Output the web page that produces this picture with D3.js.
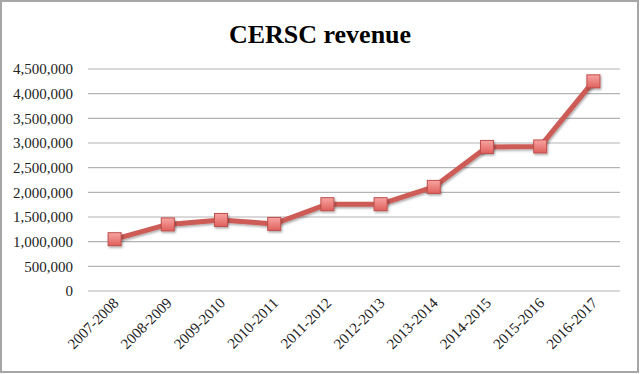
<!DOCTYPE html>
<html>
<head>
<meta charset="utf-8">
<script src="https://cdn.jsdelivr.net/npm/d3@7"></script>
<style>
  body { margin: 0; background: #fff; }
  text { font-family: 'Liberation Serif', 'DejaVu Serif', serif; }
</style>
</head>
<body>
<div id="chart"></div>
<script>
let years = ['2007-2008', '2008-2009', '2009-2010', '2010-2011', '2011-2012',
  '2012-2013', '2013-2014', '2014-2015', '2015-2016', '2016-2017']
let revenue = [1050000, 1350000, 1440000, 1360000, 1760000,
  1760000, 2110000, 2920000, 2930000, 4250000]
let yTicks = [0, 500000, 1000000, 1500000, 2000000, 2500000, 3000000, 3500000, 4000000, 4500000]

let margin = { top: 69, left: 88, right: 20, bottom: 83 }
let width = 640 - margin.left - margin.right
let height = 374 - margin.top - margin.bottom

let root = d3
  .select('#chart')
  .append('svg')
  .attr('width', 640)
  .attr('height', 374)

root
  .append('rect')
  .attr('x', 1)
  .attr('y', 1)
  .attr('width', 637)
  .attr('height', 371)
  .attr('fill', '#fff')
  .attr('stroke', '#a6a6a6')
  .attr('stroke-width', 2)

root
  .append('text')
  .attr('x', 320)
  .attr('y', 43)
  .attr('text-anchor', 'middle')
  .attr('font-size', 26)
  .attr('font-weight', 'bold')
  .text('CERSC revenue')

let defs = root.append('defs')
let grad = defs
  .append('linearGradient')
  .attr('id', 'marker-fill')
  .attr('x1', 0).attr('y1', 0)
  .attr('x2', 0).attr('y2', 1)
grad.append('stop').attr('offset', '0%').attr('stop-color', '#f7a5a3')
grad.append('stop').attr('offset', '100%').attr('stop-color', '#e0605c')

let shadow = defs.append('filter').attr('id', 'shadow')
  .attr('x', '-50%').attr('y', '-50%').attr('width', '200%').attr('height', '200%')
shadow.append('feDropShadow')
  .attr('dx', 1).attr('dy', 1.5).attr('stdDeviation', 1)
  .attr('flood-color', '#000').attr('flood-opacity', 0.35)

let svg = root
  .append('g')
  .attr('transform', 'translate(' + margin.left + ',' + margin.top + ')')

let x = d3.scaleBand().domain(years).range([0, width])
let y = d3.scaleLinear().domain([0, 4500000]).range([height, 0])

svg
  .append('g')
  .selectAll('.grid')
  .data(yTicks)
  .enter()
  .append('line')
  .attr('class', 'grid')
  .attr('x1', 0)
  .attr('x2', width)
  .attr('y1', d => y(d))
  .attr('y2', d => y(d))
  .attr('stroke', '#b3b3b3')
  .attr('stroke-width', 1.2)

svg
  .append('g')
  .selectAll('.y-label')
  .data(yTicks)
  .enter()
  .append('text')
  .attr('class', 'y-label')
  .attr('x', -15)
  .attr('y', d => y(d))
  .attr('dy', '0.35em')
  .attr('text-anchor', 'end')
  .attr('font-size', 15)
  .attr('fill', '#222')
  .text(d => d3.format(',')(d))

svg
  .append('g')
  .selectAll('.x-label')
  .data(years)
  .enter()
  .append('text')
  .attr('class', 'x-label')
  .attr('transform', d => `translate(${x(d) + x.bandwidth() / 2 + 5},${height + 13}) rotate(-45)`)
  .attr('text-anchor', 'end')
  .attr('font-size', 15)
  .attr('fill', '#222')
  .text(d => d)

let line = d3
  .line()
  .x((d, i) => x(years[i]) + x.bandwidth() / 2)
  .y(d => y(d))

svg
  .append('path')
  .datum(revenue)
  .attr('d', line)
  .attr('fill', 'none')
  .attr('stroke', '#cd5c57')
  .attr('stroke-width', 5)
  .attr('stroke-linejoin', 'round')
  .attr('filter', 'url(#shadow)')

svg
  .selectAll('.marker')
  .data(revenue)
  .enter()
  .append('rect')
  .attr('class', 'marker')
  .attr('x', (d, i) => x(years[i]) + x.bandwidth() / 2 - 6.5)
  .attr('y', d => y(d) - 6.5)
  .attr('width', 13)
  .attr('height', 13)
  .attr('fill', 'url(#marker-fill)')
  .attr('stroke', '#c0504d')
  .attr('stroke-width', 1)
  .attr('filter', 'url(#shadow)')
</script>
</body>
</html>
